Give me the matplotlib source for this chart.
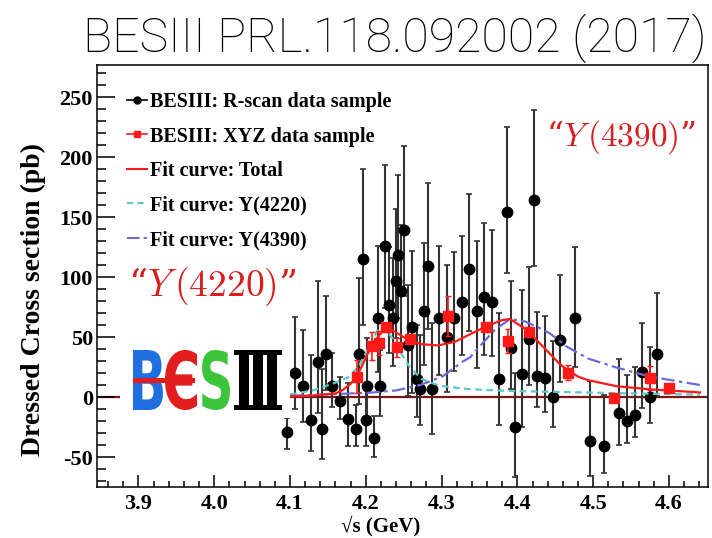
import numpy as np
import matplotlib
matplotlib.use('Agg')
import matplotlib.pyplot as plt
from matplotlib.lines import Line2D
from matplotlib.patches import PathPatch, Rectangle
from matplotlib.textpath import TextPath
from matplotlib.font_manager import FontProperties
from matplotlib.transforms import Affine2D, IdentityTransform
from matplotlib.ticker import MultipleLocator

plt.rcParams['mathtext.fontset'] = 'cm'
plt.rcParams['axes.unicode_minus'] = False

# R-scan points: energy (GeV), dressed cross section (pb), lower / upper errors
rscan_e = [4.0964, 4.1066, 4.1168, 4.1273, 4.1365, 4.1416, 4.1471, 4.1560, 4.1660, 4.1765,
           4.1867, 4.1911, 4.1960, 4.2000, 4.2022, 4.2115, 4.2157, 4.2190, 4.2257, 4.2302,
           4.2363, 4.2405, 4.2429, 4.2464, 4.2508, 4.2560, 4.2613, 4.2671, 4.2719, 4.2772,
           4.2820, 4.2869, 4.2966, 4.3067, 4.3170, 4.3269, 4.3365, 4.3463, 4.3563, 4.3661,
           4.3761, 4.3863, 4.3916, 4.3968, 4.4065, 4.4157, 4.4215, 4.4259, 4.4364, 4.4466,
           4.4562, 4.4760, 4.4958, 4.5146, 4.5344, 4.5450, 4.5551, 4.5648, 4.5749, 4.5848]
rscan_xs = [-29.5, 20, 9, -19, 29, -27, 36, 9, -3.5, -18.5,
            -27, 36, 115, -19, 9, -34, 66, 9, 126, 77,
            66, 97, 118, 88, 139, 43, 58, 15, 7, 72,
            109, 7, 66, 50, 66, 79, 107, 72, 83, 79,
            15, 154, 41, -25, 19, 48, 164, 17.5, 15.5, 0,
            47.5, 66, -37, -41, -13, -20, -15, 21, 0, 36]
rscan_dn = [14, 30, 30, 26, 42, 25, 30, 17, 15, 22,
            14, 42, 55, 22, 28, 16, 45, 25, 52, 40,
            40, 48, 52, 45, 55, 42, 55, 32, 30, 45,
            52, 38, 48, 46, 44, 44, 52, 48, 48, 45,
            38, 51, 34, 42, 44, 38, 55, 26, 28, 25,
            35, 41, 29, 22, 27, 18, 18, 30, 22, 35]
rscan_up = [12, 47, 47, 54, 68, 50, 48, 28, 20, 30,
            20, 63, 75, 30, 40, 18, 60, 30, 67, 48,
            50, 60, 67, 55, 70, 50, 64, 45, 45, 56,
            69, 55, 60, 60, 55, 55, 62, 58, 62, 60,
            55, 71, 56, 45, 70, 60, 75, 53, 52, 47,
            54, 59, 50, 43, 45, 38, 40, 41, 42, 51]

# XYZ data sample
xyz_e = [4.1886, 4.2077, 4.2171, 4.2263, 4.2417, 4.2580, 4.3079,
         4.3583, 4.3874, 4.4156, 4.4671, 4.5271, 4.5745, 4.5995]
xyz_xs = [17, 42.5, 45, 58, 41.4, 48, 67.5, 58, 47, 54.4, 20.3, -1, 16, 7.2]
xyz_err = [14, 12, 10, 4, 8, 4, 17, 4, 10, 4, 6, 3, 10, 3]

# fit curves
total_e = [4.10, 4.13, 4.16, 4.17, 4.18, 4.188, 4.195, 4.2055, 4.2171, 4.2253, 4.2276,
           4.2385, 4.2495, 4.257, 4.2737, 4.2956, 4.3177, 4.3397, 4.3563, 4.3793, 4.3902,
           4.41, 4.4276, 4.443, 4.455, 4.465, 4.48, 4.4935, 4.531, 4.575, 4.641]
total_xs = [0.5, 1.2, 3, 6, 11, 17, 26, 40, 51, 57, 58,
            54.5, 50, 47.5, 44, 43, 46, 53, 58, 64, 65,
            57, 46, 36, 28, 23, 17, 14, 9, 6.4, 3.8]
y4220_e = [4.10, 4.13, 4.156, 4.179, 4.192, 4.2055, 4.215, 4.2231, 4.2363, 4.245,
           4.258, 4.2737, 4.29, 4.302, 4.3375, 4.39, 4.443, 4.55, 4.641]
y4220_xs = [2, 5.5, 11, 17, 27, 43, 55, 59, 48, 38,
            25, 15, 11, 9, 6.5, 5, 4.4, 3, 2]
y4390_e = [4.10, 4.2055, 4.24, 4.2715, 4.2825, 4.3022, 4.3265, 4.3375, 4.3484, 4.3704,
           4.3902, 4.41, 4.4276, 4.443, 4.465, 4.4935, 4.531, 4.575, 4.641]
y4390_xs = [1, 3.6, 5.5, 10, 12.5, 17.5, 29, 33, 41, 56,
            65, 63, 58, 53, 42, 32, 24.5, 17, 10]

W, H = 712, 538
red = '#ff1a1a'
cyan = '#5cc8c8'
blue = '#6a6ad8'
serif_bold = dict(family=['Liberation Serif', 'DejaVu Serif'], weight='bold')

fig = plt.figure(figsize=(W / 100, H / 100), dpi=100)
ax = fig.add_axes([97 / W, 1 - 487 / H, 611 / W, 422 / H])

ax.axhline(0, color='#7b1515', lw=1.6, zorder=1)

ax.errorbar(rscan_e, rscan_xs, yerr=[rscan_dn, rscan_up], fmt='o', color='black',
            ecolor='#333333', elinewidth=1.5, capsize=2.5, capthick=1.2, ms=7.5, zorder=2)
ax.plot(total_e, total_xs, color=red, lw=1.6, zorder=4)
ax.plot(y4220_e, y4220_xs, color=cyan, ls=(0, (3, 2)), lw=1.6, zorder=3)
ax.plot(y4390_e, y4390_xs, color=blue, ls=(0, (6, 2, 1.5, 2)), lw=1.6, zorder=3)
ax.errorbar(xyz_e, xyz_xs, yerr=xyz_err, fmt='s', color=red, ecolor=red,
            elinewidth=1.2, capsize=2.5, capthick=1.0, ms=7, zorder=5)

ax.set_xlim(3.8454, 4.6515)
ax.set_ylim(-75, 276.7)
ax.xaxis.set_major_locator(MultipleLocator(0.1))
ax.xaxis.set_minor_locator(MultipleLocator(0.02))
ax.yaxis.set_major_locator(MultipleLocator(50))
ax.yaxis.set_minor_locator(MultipleLocator(10))
ax.tick_params(which='both', direction='in', top=False, right=False, width=1.1)
ax.tick_params(axis='x', which='major', length=9, pad=5)
ax.tick_params(axis='x', which='minor', length=4.5)
ax.tick_params(axis='y', which='major', length=13, pad=3)
ax.tick_params(axis='y', which='minor', length=6.5)
for lab in ax.get_xticklabels() + ax.get_yticklabels():
    lab.set_fontfamily(['Liberation Serif', 'DejaVu Serif'])
    lab.set_fontweight('bold')
    lab.set_fontsize(16)
for s in ax.spines.values():
    s.set_linewidth(1.1)

handles = [
    Line2D([], [], color='black', marker='o', ms=5, lw=1.2),
    Line2D([], [], color=red, marker='s', ms=5, lw=1.2),
    Line2D([], [], color=red, lw=1.5),
    Line2D([], [], color=cyan, ls=(0, (3, 2)), lw=1.5),
    Line2D([], [], color=blue, ls=(0, (6, 2, 1.5, 2)), lw=1.5),
]
labels = ['BESIII: R-scan data sample', 'BESIII: XYZ data sample',
          'Fit curve: Total', 'Fit curve: Y(4220)', 'Fit curve: Y(4390)']
ax.legend(handles, labels, loc='upper left', bbox_to_anchor=(0.049, 0.936),
          borderaxespad=0, borderpad=0, frameon=False, handlelength=1.0,
          handletextpad=0.15, labelspacing=0.72,
          prop=dict(family=['Liberation Serif', 'DejaVu Serif'], weight='bold', size=14.5))

# resonance labels
fig.text(212 / W, 1 - 287 / H, r'“$Y\,(4220)$”', color='#d81e1e', fontsize=27,
         family=['DejaVu Serif'], ha='center', va='center')
fig.text(621 / W, 1 - 137 / H, r'“$Y\,(4390)$”', color='#d81e1e', fontsize=24,
         family=['DejaVu Serif'], ha='center', va='center')

# axis titles
fig.text(33 / W, 1 - 299 / H, 'Dressed Cross section (pb)', rotation=90,
         ha='center', va='center', fontsize=20, **serif_bold)
fig.text(381 / W, 1 - 526 / H, '√s (GeV)', ha='center', va='center',
         fontsize=15, **serif_bold)

# headline, sized so it spans the canvas from x=82 to x=708
title = fig.text(395 / W, 1 - 38 / H, 'BESIII PRL.118.092002 (2017)', ha='center',
                 va='center', fontsize=36, family=['Roboto', 'DejaVu Sans'], weight='light')
renderer = fig.canvas.get_renderer()
tw = title.get_window_extent(renderer).width
title.set_fontsize(36 * 622 / tw)


# experiment logo, glyphs stretched into pixel boxes
def glyph(ch, x0, x1, ytop, ybot, color, prop):
    tp = TextPath((0, 0), ch, size=1, prop=prop)
    bb = tp.get_extents()
    tr = (Affine2D().translate(-bb.x0, -bb.y0)
          .scale((x1 - x0) / bb.width, (ybot - ytop) / bb.height)
          .translate(x0, H - ybot))
    fig.add_artist(PathPatch(tp, transform=tr, facecolor=color, edgecolor='none', zorder=6))


sans_b = FontProperties(family='DejaVu Sans', weight='bold')
serif_b = FontProperties(family='DejaVu Serif', weight='bold')
fig.add_artist(Rectangle((120, H - 418), 170, 76, transform=IdentityTransform(),
                         facecolor='white', edgecolor='none', zorder=5))
glyph('B', 133, 163, 350, 410, '#1f6fe0', sans_b)
glyph('Є', 165, 197, 350, 410, '#e21d1d', sans_b)
glyph('S', 202, 230, 350, 410, '#3cc43c', sans_b)
glyph('Ⅲ', 234, 282, 350, 410, 'black', serif_b)
fig.add_artist(Rectangle((133, H - 383), 62, 5, transform=IdentityTransform(),
                         facecolor='#e21d1d', edgecolor='none', zorder=7))

fig.savefig('out.png', dpi=100)
